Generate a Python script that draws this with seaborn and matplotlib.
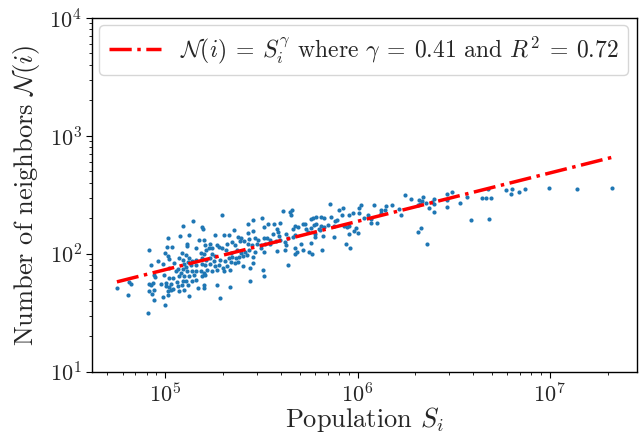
import numpy as np
import pandas as pd
import matplotlib
matplotlib.use("Agg")
import matplotlib.pyplot as plt
import seaborn as sns

# log10 of population S_i and of number of neighbors N(i)
log10_population = [
    5.146, 5.095, 5.076, 5.124, 5.012, 5.114, 5.115, 5.035, 5.009, 5.158,
    4.914, 4.998, 5.016, 5.021, 4.961, 5.086, 5.110, 5.124, 5.095, 5.072,
    4.926, 4.986, 5.047, 5.098, 5.120, 5.141, 5.162, 5.021, 5.064, 5.090,
    5.107, 5.132, 5.158, 5.055, 5.081, 5.115, 5.141, 5.162, 4.943, 4.949,
    4.995, 5.021, 5.041, 5.072, 5.098, 5.124, 5.150, 4.914, 4.926, 4.938,
    4.978, 5.004, 5.029, 5.059, 5.090, 5.110, 5.141, 5.162, 4.811, 4.823,
    4.749, 5.004, 5.021, 5.041, 5.064, 5.086, 5.120, 4.918, 4.943, 5.012,
    5.029, 5.072, 5.098, 5.170, 4.931, 5.012, 5.124, 4.809, 4.940, 4.986,
    4.998, 4.913,
    5.295, 5.613, 5.647, 5.661, 5.653, 5.501, 5.458, 5.429, 5.536, 5.567,
    5.596, 5.189, 5.196, 5.359, 5.458, 5.515, 5.579, 5.587, 5.665, 5.673,
    5.261, 5.304, 5.330, 5.395, 5.378, 5.429, 5.438, 5.467, 5.484, 5.515,
    5.531, 5.544, 5.562, 5.591, 5.630, 5.639, 5.665, 5.677, 5.201, 5.175,
    5.235, 5.269, 5.278, 5.321, 5.347, 5.364, 5.390, 5.412, 5.429, 5.450,
    5.476, 5.498, 5.519, 5.544, 5.574, 5.596, 5.622, 5.630, 5.209, 5.227,
    5.213, 5.244, 5.184, 5.201, 5.244, 5.261, 5.295, 5.316, 5.342, 5.373,
    5.395, 5.416, 5.436, 5.467, 5.515, 5.579, 5.625, 5.673, 5.687, 5.192,
    5.213, 5.235, 5.252, 5.287, 5.312, 5.330, 5.347, 5.367, 5.385, 5.403,
    5.424, 5.458, 5.498, 5.189, 5.209, 5.235, 5.261, 5.278, 5.299, 5.321,
    5.343, 5.364, 5.381, 5.407, 5.441, 5.458, 5.673, 5.639, 5.184, 5.201,
    5.218, 5.244, 5.269, 5.304, 5.338, 5.510, 5.192, 5.209, 5.515, 5.201,
    5.201, 5.269, 5.338, 5.441, 5.287,
    5.859, 5.902, 5.923, 6.017, 6.009, 6.083, 6.146, 6.177, 6.124, 6.141,
    6.121, 5.974, 5.957, 6.005, 5.919, 5.825, 5.811, 5.785, 5.768, 5.756,
    5.863, 5.883, 5.894, 5.717, 5.725, 5.773, 5.785, 5.811, 5.828, 5.846,
    5.691, 5.734, 5.760, 5.798, 5.880, 5.932, 5.945, 5.957, 6.031, 6.052,
    6.072, 6.103, 6.069, 5.992, 5.983, 6.000, 5.957, 5.743, 5.777, 5.803,
    5.820, 5.877, 5.780, 5.705, 5.756, 5.717, 5.746, 5.763, 5.815, 5.940,
    5.962,
    6.249, 6.278, 6.318, 6.340, 6.335, 6.357, 6.323, 6.313, 6.386, 6.395,
    6.398, 6.374, 6.395, 6.464, 6.491, 6.464, 6.467, 6.532, 6.567, 6.649,
    6.666, 6.678, 6.696, 6.773, 6.215, 6.227, 6.313, 6.331, 6.361, 6.589,
    6.684,
    6.802, 6.799, 6.838, 6.869, 6.996, 7.141, 7.323,
]
log10_neighbors = [
    2.278, 2.238, 2.150, 2.159, 2.131, 2.080, 2.066, 2.057, 2.057, 2.051,
    2.034, 2.009, 1.978, 1.958, 1.944, 2.006, 1.992, 1.966, 1.949, 1.966,
    1.910, 1.915, 1.924, 1.918, 1.930, 1.938, 1.952, 1.881, 1.876, 1.873,
    1.887, 1.904, 1.904, 1.853, 1.839, 1.853, 1.859, 1.853, 1.825, 1.802,
    1.825, 1.797, 1.797, 1.811, 1.811, 1.811, 1.819, 1.746, 1.740, 1.754,
    1.746, 1.754, 1.746, 1.763, 1.768, 1.774, 1.768, 1.780, 1.760, 1.748,
    1.712, 1.726, 1.717, 1.706, 1.726, 1.740, 1.740, 1.683, 1.692, 1.683,
    1.695, 1.689, 1.697, 1.712, 1.661, 1.655, 1.641, 1.655, 1.612, 1.632,
    1.564, 1.499,
    2.326, 2.363, 2.354, 2.369, 2.329, 2.301, 2.286, 2.255, 2.250, 2.255,
    2.264, 2.227, 2.207, 2.199, 2.193, 2.230, 2.207, 2.187, 2.207, 2.236,
    2.159, 2.159, 2.159, 2.131, 2.142, 2.179, 2.128, 2.136, 2.122, 2.136,
    2.131, 2.122, 2.170, 2.150, 2.170, 2.136, 2.142, 2.159, 2.122, 2.114,
    2.085, 2.074, 2.057, 2.085, 2.102, 2.074, 2.108, 2.108, 2.085, 2.074,
    2.080, 2.074, 2.085, 2.085, 2.108, 2.114, 2.102, 2.074, 2.074, 2.051,
    2.029, 2.046, 2.009, 1.995, 1.995, 1.981, 2.051, 2.037, 2.009, 2.037,
    2.009, 2.017, 2.029, 2.015, 2.017, 2.023, 2.029, 2.046, 2.017, 1.966,
    1.952, 1.961, 1.944, 1.952, 1.938, 1.961, 1.972, 1.966, 1.972, 1.981,
    1.989, 1.972, 2.051, 1.915, 1.904, 1.915, 1.896, 1.910, 1.881, 1.896,
    1.932, 1.924, 1.932, 1.896, 1.881, 1.924, 1.995, 1.910, 1.853, 1.839,
    1.867, 1.853, 1.867, 1.859, 1.867, 1.864, 1.811, 1.819, 1.816, 1.740,
    1.712, 1.740, 1.717, 1.774, 1.627,
    2.425, 2.369, 2.386, 2.411, 2.391, 2.414, 2.405, 2.414, 2.369, 2.369,
    2.349, 2.349, 2.329, 2.349, 2.329, 2.301, 2.312, 2.312, 2.306, 2.298,
    2.312, 2.278, 2.284, 2.255, 2.250, 2.244, 2.255, 2.236, 2.227, 2.244,
    2.227, 2.207, 2.216, 2.207, 2.236, 2.236, 2.230, 2.236, 2.306, 2.329,
    2.292, 2.264, 2.264, 2.216, 2.193, 2.176, 2.170, 2.187, 2.170, 2.199,
    2.148, 2.142, 2.142, 2.085, 2.094, 2.037, 2.017, 2.000, 2.029, 2.085,
    2.046,
    2.496, 2.468, 2.454, 2.482, 2.448, 2.434, 2.420, 2.411, 2.442, 2.462,
    2.420, 2.391, 2.354, 2.510, 2.527, 2.454, 2.397, 2.428, 2.482, 2.471,
    2.476, 2.547, 2.471, 2.538, 2.377, 2.329, 2.187, 2.216, 2.080, 2.284,
    2.292,
    2.553, 2.504, 2.527, 2.553, 2.561, 2.547, 2.555,
]

gamma = 0.41
log10_prefactor = -0.184
legend_label = (r"$\mathcal{N}(i)\:=\:S_i^\gamma$ where $\gamma\:=\:0.41$"
                r" and $R^2\:=\:0.72$")

df = pd.DataFrame({
    "population": 10 ** np.array(log10_population),
    "neighbors": 10 ** np.array(log10_neighbors),
})

sns.set_style("ticks")
plt.rcParams["font.family"] = ["cmr10"]
plt.rcParams["mathtext.fontset"] = "cm"
plt.rcParams["axes.formatter.use_mathtext"] = True
plt.rcParams["axes.unicode_minus"] = False

fig, ax = plt.subplots(figsize=(6.4, 4.37), dpi=100)
fig.subplots_adjust(left=0.144, right=0.995, bottom=0.149, top=0.959)
ax.set_xscale("log")
ax.set_yscale("log")

sns.scatterplot(data=df, x="population", y="neighbors", ax=ax,
                s=9, color="#1f77b4", linewidth=0, legend=False)

xs = np.array([df["population"].min(), df["population"].max()])
fit = 10 ** log10_prefactor * xs ** gamma
sns.lineplot(x=xs, y=fit, ax=ax, color="red", linestyle="-.", linewidth=2.5,
             label=legend_label)

# 5% margin in log space (matplotlib's default autoscale margin)
lo, hi = min(log10_population), max(log10_population)
pad = 0.05 * (hi - lo)
ax.set_xlim(10 ** (lo - pad), 10 ** (hi + pad))
ax.set_ylim(10, 1e4)
for s in ax.spines.values():
    s.set_visible(True)
    s.set_linewidth(1.0)
    s.set_color("black")
ax.tick_params(axis="both", which="major", labelsize=16, length=4, color="black")
ax.tick_params(axis="both", which="minor", length=2, color="black")
ax.set_xlabel(r"Population $S_i$", fontsize=19, labelpad=-1)
ax.set_ylabel(r"Number of neighbors $\mathcal{N}(i)$", fontsize=19, labelpad=5)
ax.legend(loc="upper left", fontsize=17, handlelength=2.2,
          borderaxespad=0.3)

fig.savefig("out.png", dpi=100)
